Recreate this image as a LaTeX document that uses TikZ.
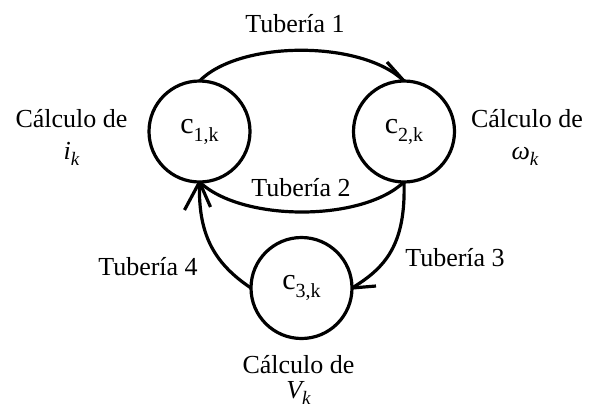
\documentclass[tikz,border=0pt]{standalone}
\usepackage{fontspec}
\setmainfont{Liberation Serif}
\begin{document}
\begin{tikzpicture}[x=1pt,y=-1pt,
  state/.style={circle,draw,line width=3.2pt,minimum size=101pt,inner sep=0pt,outer sep=0pt},
  pipe/.style={line width=3.2pt},
  barb/.style={line width=3.2pt},
  lbl/.style={font=\fontsize{26}{34}\selectfont,inner sep=0pt,align=center}]
\useasboundingbox (0,0) rectangle (592,413);
\newcommand{\cname}[1]{{\fontsize{30}{36}\selectfont c\raisebox{-8pt}{\fontsize{20}{24}\selectfont #1,k}}}
\newcommand{\ivar}[1]{{\itshape #1\raisebox{-6pt}{\fontsize{19}{22}\selectfont k}}}
\node[state] (c1) at (199.5,131.5) {\cname{1}};
\node[state] (c2) at (404,131.5) {\cname{2}};
\node[state] (c3) at (301.5,288) {\cname{3}};
% connectors
\draw[pipe] (c1.north) .. controls (240,40) and (362,40) .. (c2.north);
\draw[pipe] (c2.south) .. controls (362,222) and (242,222) .. (c1.south);
\draw[pipe] (c2.south) .. controls (406,245) and (385,268) .. (c3.east);
\draw[pipe] (c3.west) .. controls (212,262) and (198,232) .. (c1.south);
% arrow barbs
\draw[barb] (c2.north) -- ++(-17,-19);
\draw[barb] (c1.south) -- ++(-15,28);
\draw[barb] (c1.south) -- ++(11,25);
\draw[barb] (c3.east) -- ++(24,-2);
% labels
\node[lbl,anchor=base] (t1) at (295,32) {Tubería 1};
\node[lbl,anchor=base] (t2) at (301,196) {Tubería 2};
\node[lbl,anchor=base] (t3) at (455,266) {Tubería 3};
\node[lbl,anchor=base] (t4) at (148,275) {Tubería 4};
\node[lbl,anchor=base] (l1) at (71.5,127) {Cálculo de};
\node[lbl,anchor=base] (l1b) at (71.5,159) {\ivar{i}};
\node[lbl,anchor=base] (l2) at (527,127) {Cálculo de};
\node[lbl,anchor=base] (l2b) at (525,159) {\ivar{ω}};
\node[lbl,anchor=base] (l3) at (298.5,373) {Cálculo de};
\node[lbl,anchor=base] (l3b) at (298.5,398) {\ivar{V}};
\end{tikzpicture}
\end{document}
